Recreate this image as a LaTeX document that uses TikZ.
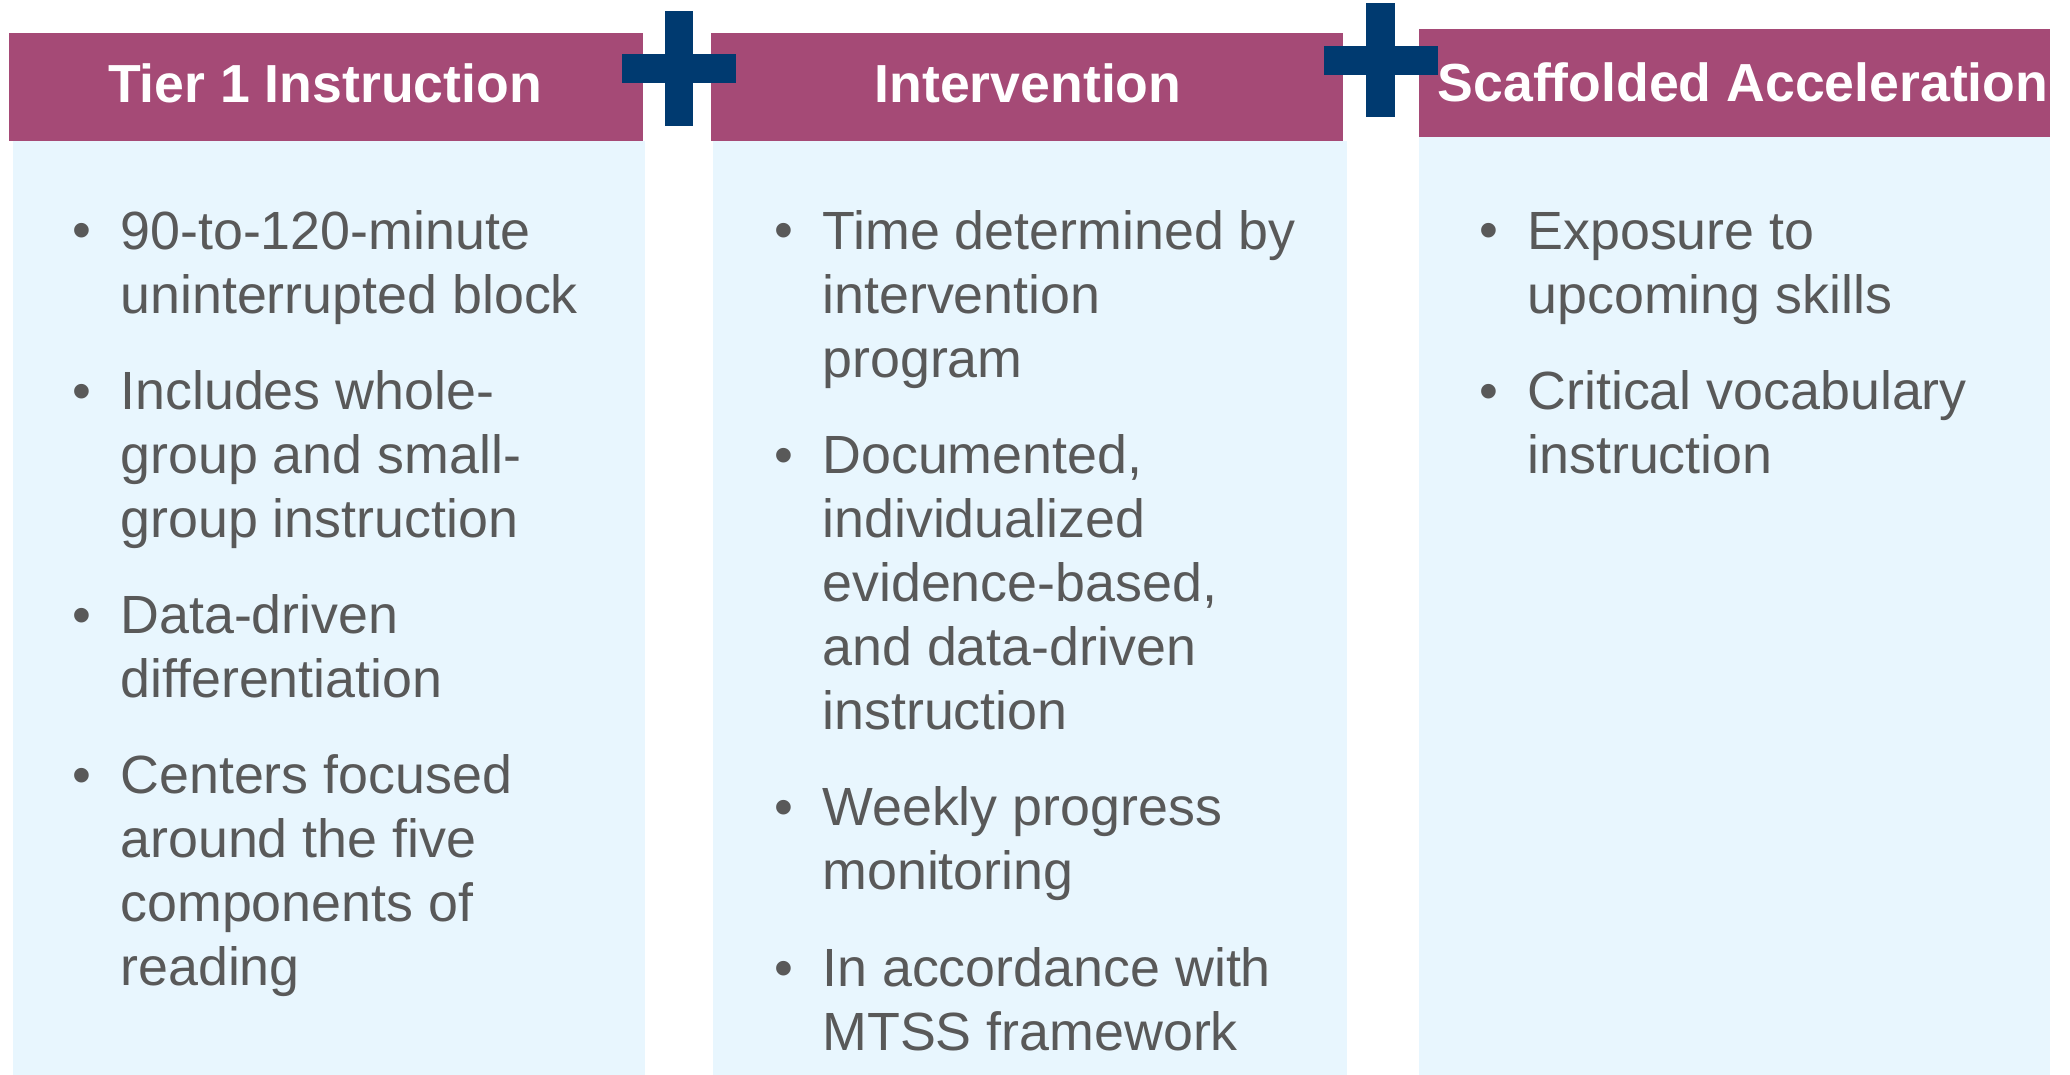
\documentclass[tikz,border=0pt]{standalone}
\usepackage{fontspec}
\setmainfont{Liberation Sans}
\definecolor{hdrcol}{HTML}{A54A76}
\definecolor{bodycol}{HTML}{E8F6FE}
\definecolor{pluscol}{HTML}{003A70}
\definecolor{txtcol}{HTML}{595959}
\begin{document}
\begin{tikzpicture}[x=0.5pt,y=-0.5pt,
  hdr/.style={fill=hdrcol},
  bodybox/.style={fill=bodycol},
  plusbar/.style={fill=pluscol},
  title/.style={text=white,font=\bfseries\fontsize{26.8pt}{32pt}\selectfont,inner sep=0pt,anchor=base},
  item/.style={text=txtcol,font=\fontsize{26.9pt}{32pt}\selectfont,inner sep=0pt,anchor=base west,align=left},
  bul/.style={text=txtcol,font=\fontsize{26.9pt}{32pt}\selectfont,inner sep=0pt,anchor=base}]
\useasboundingbox (0,0) rectangle (2070,1075);
% bodies
\fill[bodybox] (13,141) rectangle (645,1075);
\fill[bodybox] (713,141) rectangle (1347,1075);
\fill[bodybox] (1419,137) rectangle (2050,1075);
% headers
\fill[hdr] (9,33) rectangle (643,141);
\fill[hdr] (711,33) rectangle (1343,141);
\fill[hdr] (1419,29) rectangle (2050,137);
\node[title] (t1) at (325,103) {Tier 1 Instruction};
\node[title] (t2) at (1028,103) {Intervention};
\node[title] (t3) at (1743,102) {Scaffolded Acceleration};
% plus signs
\fill[plusbar] (665,11) rectangle (693,126);
\fill[plusbar] (622,54) rectangle (736,83);
\fill[plusbar] (1366,3) rectangle (1395,117);
\fill[plusbar] (1324,46) rectangle (1438,75);
% column 1 (item nodes anchored at the baseline of their last line)
\node[bul] (b11) at (81.7,249) {•};
\node[item] (i11) at (120,313) {90-to-120-minute\\uninterrupted block};
\node[bul] (b12) at (81.7,409) {•};
\node[item] (i12) at (120,537) {Includes whole-\\group and small-\\group instruction};
\node[bul] (b13) at (81.7,633) {•};
\node[item] (i13) at (120,697) {Data-driven\\differentiation};
\node[bul] (b14) at (81.7,793) {•};
\node[item] (i14) at (120,985) {Centers focused\\around the five\\components of\\reading};
% column 2
\node[bul] (b21) at (784,249) {•};
\node[item] (i21) at (822,377) {Time determined by\\intervention\\program};
\node[bul] (b22) at (784,473) {•};
\node[item] (i22) at (822,729) {Documented,\\individualized\\evidence-based,\\and data-driven\\instruction};
\node[bul] (b23) at (784,825) {•};
\node[item] (i23) at (822,889) {Weekly progress\\monitoring};
\node[bul] (b24) at (784,986) {•};
\node[item] (i24) at (822,1050) {In accordance with\\MTSS framework};
% column 3
\node[bul] (b31) at (1488.5,249) {•};
\node[item] (i31) at (1527,313) {Exposure to\\upcoming skills};
\node[bul] (b32) at (1488.5,409) {•};
\node[item] (i32) at (1527,473) {Critical vocabulary\\instruction};
\end{tikzpicture}
\end{document}
